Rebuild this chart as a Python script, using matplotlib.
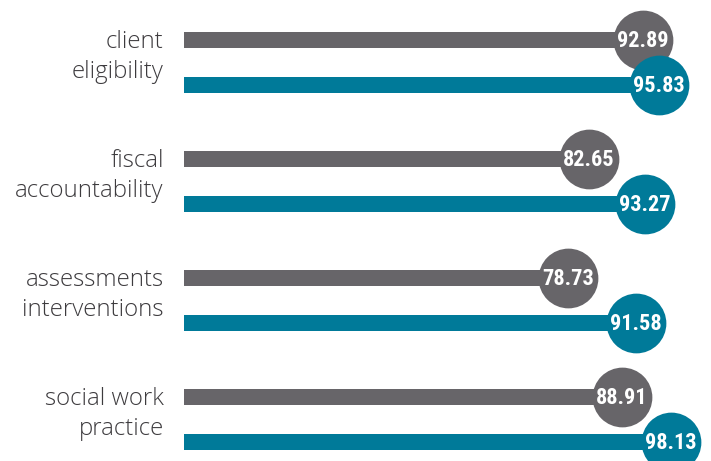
import matplotlib
matplotlib.use("Agg")
import matplotlib.pyplot as plt

# Data
categories = ["client\neligibility", "fiscal\naccountability",
              "assessments\ninterventions", "social work\npractice"]
gray_values = [92.89, 82.65, 78.73, 88.91]
teal_values = [95.83, 93.27, 91.58, 98.13]

gray_color = "#676569"
teal_color = "#007a99"
text_color = "#3d3b3e"

# Canvas: axes fill the whole figure, y in pixel-like units
fig = plt.figure(figsize=(7.11, 4.61), dpi=100)
ax = fig.add_axes([0, 0, 1, 1])
ax.set_xlim(-28.25, 105.65)
ax.set_ylim(461, 0)
ax.axis("off")

bar_start = 6.4
group_step = 119
first_row = 40
pair_gap = 45
bar_h = 16

for i, (cat, g, t) in enumerate(zip(categories, gray_values, teal_values)):
    yg = first_row + i * group_step
    yt = yg + pair_gap
    ax.barh(yg, g - bar_start, left=bar_start, height=bar_h, color=gray_color, zorder=1)
    ax.barh(yt, t - bar_start, left=bar_start, height=bar_h, color=teal_color, zorder=1)
    ax.scatter([g], [yg], s=1850, color=gray_color, zorder=2, linewidths=0)
    ax.scatter([t], [yt], s=1850, color=teal_color, zorder=3, linewidths=0)
    for v, y, z in ((g, yg, 4), (t, yt, 5)):
        ax.text(v, y + 1, f"{v:.2f}", ha="center", va="center", color="white",
                fontsize=16, fontweight="bold", zorder=z,
                family=["Roboto Condensed", "DejaVu Sans"])
    ax.text(2.6, yg + 17, cat, ha="right", va="center", color=text_color,
            fontsize=17.3, fontweight="light", linespacing=1.3,
            family=["Open Sans", "DejaVu Sans"])

plt.savefig("out.png", dpi=100)
